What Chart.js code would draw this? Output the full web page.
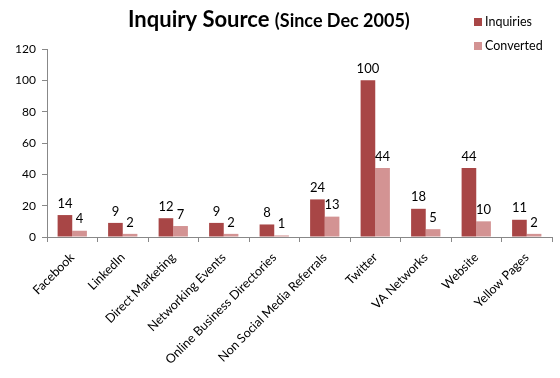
<!DOCTYPE html>
<html>
<head>
<meta charset="utf-8">
<script src="https://cdn.jsdelivr.net/npm/chart.js@4"></script>
<style>
  html, body { margin: 0; padding: 0; background: #fff; }
  #wrap { width: 560px; height: 378px; }
</style>
</head>
<body>
<div id="wrap"><canvas id="inquiryChart" width="560" height="378"></canvas></div>
<script>
const categories = ['Facebook', 'LinkedIn', 'Direct Marketing', 'Networking Events',
  'Online Business Directories', 'Non Social Media Referrals', 'Twitter',
  'VA Networks', 'Website', 'Yellow Pages'];
const inquiries = [14, 9, 12, 9, 8, 24, 100, 18, 44, 11];
const converted = [4, 2, 7, 2, 1, 13, 44, 5, 10, 2];
const yTicks = [0, 20, 40, 60, 80, 100, 120];

const FONT = 'Lato, "Open Sans", sans-serif';
const INQ_COLOR = '#a84646';
const CONV_COLOR = '#d39393';

// value labels above each bar
const barLabels = {
    id: 'barLabels',
    afterDatasetsDraw(chart) {
        const ctx = chart.ctx;
        ctx.save();
        ctx.font = '13px ' + FONT;
        ctx.fillStyle = '#000';
        ctx.textAlign = 'center';
        ctx.textBaseline = 'bottom';
        chart.data.datasets.forEach((ds, i) => {
            chart.getDatasetMeta(i).data.forEach((bar, j) => {
                ctx.fillText(ds.data[j], bar.x, bar.y - 5);
            });
        });
        ctx.restore();
    }
};

// title with two sizes + legend on the right
const header = {
    id: 'header',
    afterDraw(chart) {
        const ctx = chart.ctx;
        ctx.save();
        ctx.fillStyle = '#000';
        ctx.textBaseline = 'alphabetic';
        const part1 = 'Inquiry Source ';
        const part2 = '(Since Dec 2005)';
        ctx.font = 'bold 22px ' + FONT;
        ctx.fillText(part1, 128, 27);
        const w1 = ctx.measureText(part1).width;
        ctx.font = 'bold 18px ' + FONT;
        ctx.fillText(part2, 128 + w1, 27);

        const items = [['Inquiries', INQ_COLOR, 22], ['Converted', CONV_COLOR, 46]];
        ctx.font = '12.5px ' + FONT;
        ctx.textBaseline = 'middle';
        items.forEach(([label, color, y]) => {
            ctx.fillStyle = color;
            ctx.fillRect(474, y - 4, 8, 8);
            ctx.fillStyle = '#000';
            ctx.fillText(label, 485, y);
        });
        ctx.restore();
    }
};

new Chart(document.getElementById('inquiryChart'), {
    type: 'bar',
    data: {
        labels: categories,
        datasets: [
            { label: 'Inquiries', data: inquiries, backgroundColor: INQ_COLOR },
            { label: 'Converted', data: converted, backgroundColor: CONV_COLOR }
        ]
    },
    options: {
        responsive: false,
        animation: false,
        layout: { padding: { top: 49, right: 8, left: 0, bottom: 0 } },
        datasets: { bar: { categoryPercentage: 0.58, barPercentage: 1.0 } },
        plugins: {
            legend: { display: false },
            title: { display: false },
            tooltip: { enabled: false }
        },
        scales: {
            x: {
                afterFit(scale) { scale.height = 141; },
                grid: { offset: true, drawOnChartArea: false, tickLength: 5, color: '#888' },
                border: { color: '#888' },
                ticks: {
                    font: { family: FONT, size: 12.5 },
                    color: '#000',
                    minRotation: 45,
                    maxRotation: 45,
                    autoSkip: false,
                    padding: 8
                }
            },
            y: {
                min: 0,
                max: 120,
                afterFit(scale) { scale.width = 47; },
                afterBuildTicks(scale) { scale.ticks = yTicks.map(v => ({ value: v })); },
                grid: { drawOnChartArea: false, tickLength: 5, color: '#888' },
                border: { color: '#888' },
                ticks: {
                    font: { family: FONT, size: 12 },
                    color: '#000',
                    padding: 6
                }
            }
        }
    },
    plugins: [barLabels, header]
});
</script>
</body>
</html>
